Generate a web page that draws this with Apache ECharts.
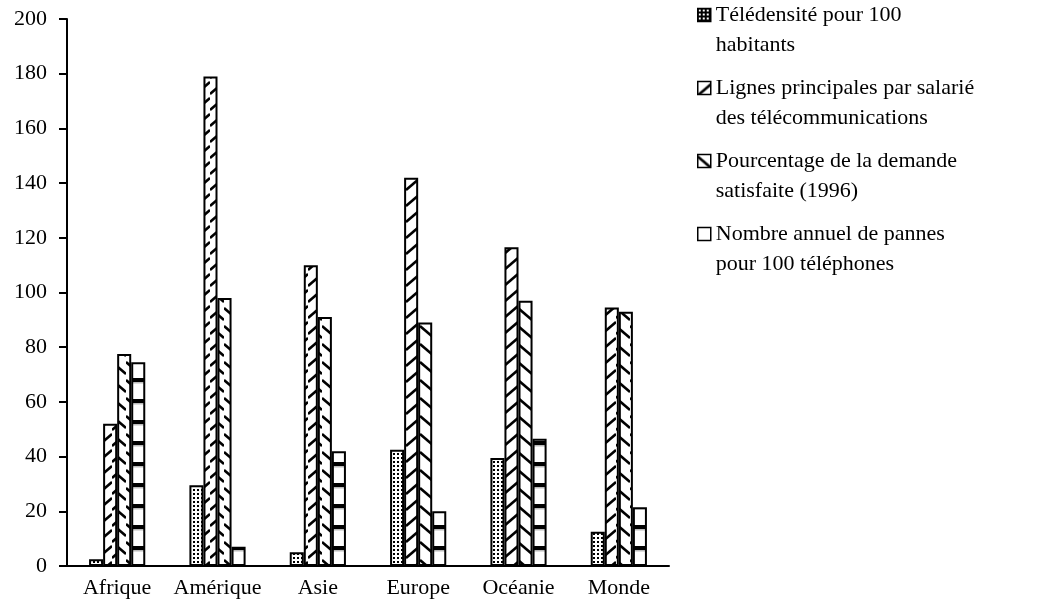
<!DOCTYPE html>
<html>
<head>
<meta charset="utf-8">
<script src="https://cdn.jsdelivr.net/npm/echarts@6/dist/echarts.min.js"></script>
<style>html,body{margin:0;padding:0;background:#fff}#c{width:1037px;height:610px}</style>
</head>
<body>
<div id="c"></div>
<script>
const categories = ['Afrique', 'Amérique', 'Asie', 'Europe', 'Océanie', 'Monde'];
const seriesNames = [
  'Télédensité pour 100\nhabitants',
  'Lignes principales par salarié\ndes télécommunications',
  'Pourcentage de la demande\nsatisfaite (1996)',
  'Nombre annuel de pannes\npour 100 téléphones'
];
const teledensite = [2.5, 29.5, 5, 42.5, 39.5, 12.5];
const lignes = [52, 179, 110, 142, 116.5, 94.5];
const pourcentage = [77.5, 98, 91, 89, 97, 93];
const pannes = [74.5, 7, 42, 20, 46.5, 21.5];
const yTicks = {min: 0, max: 200, interval: 20};

function tile(w, h, draw, bg) {
  const c = document.createElement('canvas');
  c.width = w; c.height = h;
  const ctx = c.getContext('2d');
  ctx.fillStyle = bg || '#fff'; ctx.fillRect(0, 0, w, h);
  draw(ctx, w, h);
  return {image: c, repeat: 'repeat'};
}
const pDots = tile(4, 4, (ctx) => { ctx.fillStyle = '#000'; ctx.fillRect(1, 1, 2, 2); });
const pDotsDark = tile(4, 4, (ctx) => { ctx.fillStyle = '#fff'; ctx.fillRect(1, 1, 2, 2); }, '#000');
const pSlash = tile(14, 16, (ctx, w, h) => {
  ctx.strokeStyle = '#000'; ctx.lineWidth = 2.5;
  ctx.beginPath(); ctx.moveTo(0, h - 2); ctx.lineTo(w, 2); ctx.stroke();
});
const pBack = tile(14, 18, (ctx, w, h) => {
  ctx.strokeStyle = '#000'; ctx.lineWidth = 2.5;
  ctx.beginPath(); ctx.moveTo(0, 2); ctx.lineTo(w, h - 4); ctx.stroke();
});
const pHoriz = tile(4, 21, (ctx, w, h) => {
  ctx.fillStyle = '#000'; ctx.fillRect(0, 0, w, 4);
  ctx.fillStyle = '#bbb'; ctx.fillRect(0, 4, w, 1);
  ctx.fillStyle = '#ddd'; ctx.fillRect(0, 5, w, 1);
});
const patterns = [pDots, pSlash, pBack, pHoriz];
const legendFills = [pDotsDark, pSlash, pBack, '#fff'];
const values = [teledensite, lignes, pourcentage, pannes];

const font = 'Liberation Serif';
const chart = echarts.init(document.getElementById('c'));
chart.setOption({
  animation: false,
  backgroundColor: '#fff',
  grid: {left: 67, right: 368, top: 19, bottom: 44, containLabel: false},
  legend: {
    orient: 'vertical', left: 697, top: -30, padding: 0,
    icon: 'rect', itemWidth: 13, itemHeight: 13, itemGap: -17,
    itemStyle: {borderColor: '#000', borderWidth: 1.5},
    formatter: (name) => '\u00a0\n' + name,
    textStyle: {fontFamily: font, fontSize: 22, color: '#000', lineHeight: 30},
    data: seriesNames.map((n, i) => ({name: n, itemStyle: {color: legendFills[i], borderColor: '#000', borderWidth: 1.5}}))
  },
  xAxis: {
    type: 'category', data: categories,
    axisLine: {lineStyle: {color: '#000', width: 2}},
    axisTick: {length: 8, lineStyle: {color: '#000', width: 2}},
    axisLabel: {fontFamily: font, fontSize: 22, color: '#000', margin: 11, interval: 0}
  },
  yAxis: {
    type: 'value', min: yTicks.min, max: yTicks.max, interval: yTicks.interval,
    splitLine: {show: false},
    axisLine: {show: true, lineStyle: {color: '#000', width: 2}},
    axisTick: {show: true, length: 8, lineStyle: {color: '#000', width: 2}},
    axisLabel: {fontFamily: font, fontSize: 22, color: '#000', margin: 20}
  },
  series: seriesNames.map((n, i) => ({
    name: n, type: 'bar', data: values[i],
    barGap: '0%', barCategoryGap: '44%',
    itemStyle: {color: patterns[i], borderColor: '#000', borderWidth: 2}
  }))
});
</script>
</body>
</html>
